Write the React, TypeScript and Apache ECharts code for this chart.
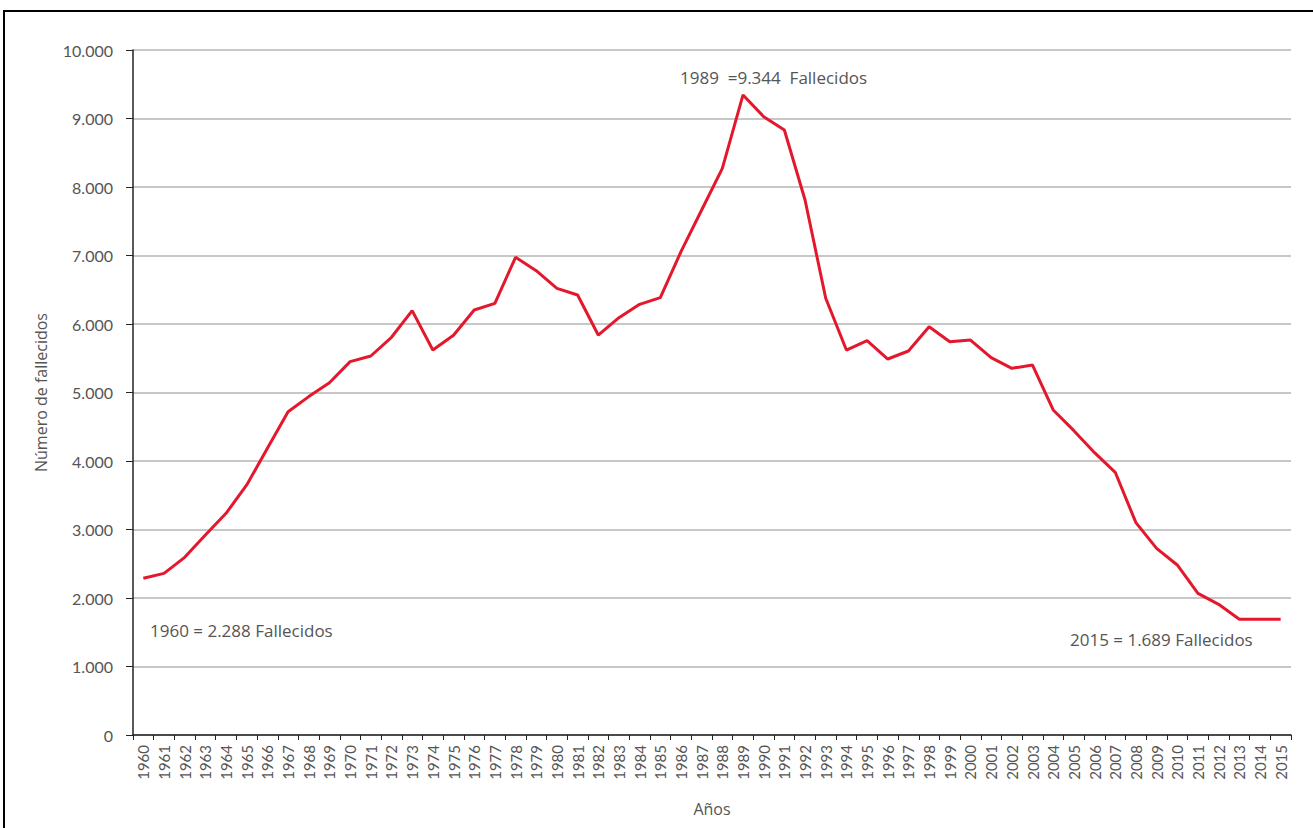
import React, { useEffect, useRef } from "react";
import * as echarts from "echarts";

const years: string[] = [];
for (let y = 1960; y <= 2015; y++) years.push(String(y));

const deaths = [
  2288, 2360, 2594, 2920, 3236, 3650, 4185, 4720, 4940, 5143,
  5450, 5533, 5806, 6195, 5620, 5835, 6204, 6302, 6973, 6778,
  6521, 6423, 5839, 6092, 6287, 6384, 7056, 7664, 8273, 9344,
  9026, 8832, 7810, 6375, 5620, 5757, 5489, 5606, 5961, 5742,
  5766, 5508, 5353, 5401, 4745, 4443, 4121, 3835, 3100, 2725,
  2482, 2068, 1908, 1689, 1689, 1689,
];

const yTicks = [0, 1000, 2000, 3000, 4000, 5000, 6000, 7000, 8000, 9000, 10000];
const annotations = [
  { text: "1989  =9.344  Fallecidos", x: 680, y: 77 },
  { text: "1960 = 2.288 Fallecidos", x: 150, y: 630 },
  { text: "2015 = 1.689 Fallecidos", x: 1070, y: 639 },
];

const FONT = "Lato";
const FONT2 = "Open Sans";
const TXT = "#555555";

function fmt(v: number): string {
  return v.toLocaleString("de-DE");
}

export default function App() {
  const ref = useRef<HTMLDivElement>(null);
  useEffect(() => {
    if (!ref.current) return;
    const chart = echarts.init(ref.current, undefined, { renderer: "svg" });
    chart.setOption({
      animation: false,
      backgroundColor: "#ffffff",
      grid: { left: 133, right: 22, top: 50, bottom: 93, containLabel: false },
      xAxis: {
        type: "category",
        data: years,
        boundaryGap: true,
        name: "Años",
        nameLocation: "middle",
        nameGap: 66,
        nameTextStyle: { fontFamily: FONT2, fontSize: 16, color: TXT },
        axisLine: { lineStyle: { color: "#222", width: 1.5 } },
        axisTick: { show: true, length: 5, lineStyle: { color: "#222" } },
        axisLabel: {
          rotate: 90,
          interval: 0,
          margin: 10,
          fontFamily: FONT,
          fontSize: 15,
          color: TXT,
        },
        splitLine: { show: false },
      },
      yAxis: {
        type: "value",
        min: 0,
        max: 10000,
        interval: 1000,
        name: "Número de fallecidos",
        nameLocation: "middle",
        nameGap: 84,
        nameTextStyle: { fontFamily: FONT2, fontSize: 16, color: TXT },
        axisLine: { show: true, lineStyle: { color: "#222", width: 1.5 } },
        axisTick: { show: true, length: 7, lineStyle: { color: "#222" } },
        axisLabel: {
          margin: 20,
          fontFamily: FONT,
          fontSize: 16,
          color: TXT,
          formatter: (v: number) => (yTicks.includes(v) ? fmt(v) : ""),
        },
        splitLine: { show: true, lineStyle: { color: "#b4b4b4", width: 1.5 } },
      },
      series: [
        {
          type: "line",
          data: deaths,
          symbol: "none",
          lineStyle: { color: "#e3182d", width: 3 },
          z: 5,
        },
      ],
      graphic: [
        {
          type: "rect",
          shape: { x: 4, y: 11, width: 1400, height: 900 },
          style: { fill: "none", stroke: "#000", lineWidth: 2 },
          silent: true,
        },
        ...annotations.map((a) => ({
          type: "text",
          x: a.x,
          y: a.y,
          style: {
            text: a.text,
            fontFamily: FONT2,
            fontSize: 17,
            fill: TXT,
            verticalAlign: "middle",
          },
        })),
      ],
    });
    return () => chart.dispose();
  }, []);
  return (
    <div
      ref={ref}
      style={{ position: "fixed", left: 0, top: 0, width: 1313, height: 828 }}
    />
  );
}
